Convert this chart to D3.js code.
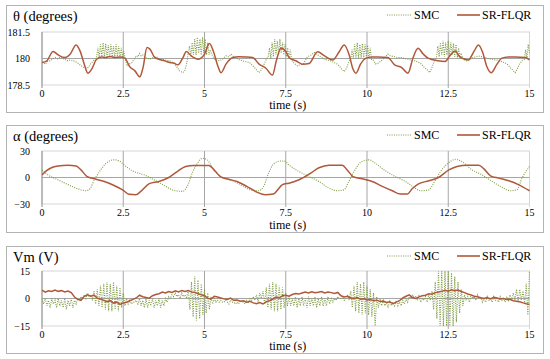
<!DOCTYPE html>
<html>
<head>
<meta charset="utf-8">
<script src="https://d3js.org/d3.v7.min.js"></script>
<style>
body { margin: 0; background: #fff; }
svg text { fill: #000; }
</style>
</head>
<body>
<svg id="chart" width="550" height="359"></svg>
<script>
// time axis, shared by the three plots
var timeTicks = [0, 2.5, 5, 7.5, 10, 12.5, 15];
var timeTickLabels = ["0", "2.5", "5", "7.5", "10", "12.5", "15"];
var seriesNames = ["SMC", "SR-FLQR"];

// theta (degrees) : [t, value]
var thetaTicks = [178.5, 180, 181.5];
var thetaTickLabels = ["178.5", "180", "181.5"];
var thetaFlqr = [[0,179.77],[0.15,179.87],[0.34,180.4],[0.5,180.2],[0.71,180.05],[0.87,180.25],[1.05,180.77],[1.17,180.43],
  [1.3,179.68],[1.41,179.17],[1.53,179.4],[1.68,179.96],[1.84,180.09],[1.95,180.05],[2.09,180.12],[2.25,180.06],[2.4,180.09],[2.55,180.02],
  [2.7,179.53],[2.86,179.3],[3.01,178.96],[3.11,179.5],[3.23,180.62],[3.32,180.53],[3.47,180.06],[3.67,179.92],[3.8,179.85],[3.93,179.77],
  [4.05,179.74],[4.18,179.64],[4.34,180.06],[4.44,180.4],[4.59,180.15],[4.8,179.96],[5.0,180.25],[5.15,180.85],[5.27,180.43],[5.41,179.58],
  [5.51,179.2],[5.66,179.68],[5.87,180.06],[6.05,180.1],[6.28,180.09],[6.48,180.06],[6.68,179.68],[6.89,179.45],[7.09,179.06],[7.21,179.87],
  [7.35,180.58],[7.5,180.4],[7.6,180.06],[7.81,179.87],[8.02,179.68],[8.22,179.72],[8.48,180.38],[8.69,180.15],[8.94,179.92],[9.15,180.4],
  [9.3,180.77],[9.46,180.15],[9.56,179.45],[9.66,179.17],[9.8,179.68],[9.97,180.02],[10.15,180.08],[10.33,180.09],[10.64,180.06],[10.85,179.64],
  [11.06,179.5],[11.26,179.17],[11.42,180.06],[11.57,180.58],[11.73,180.25],[11.88,180.02],[12.19,179.87],[12.4,179.83],[12.55,180.15],
  [12.71,180.43],[12.86,180.09],[13.12,179.92],[13.3,180.43],[13.43,180.77],[13.56,180.34],[13.69,179.53],[13.82,179.2],[14.0,179.68],
  [14.15,180.02],[14.35,180.08],[14.56,180.09],[14.87,180.06],[15,179.92]];
var thetaSmc = [[0,179.8],[0.1,179.68],[0.18,179.85],[0.26,179.87],[0.35,180.0],[0.41,180.06],[0.48,179.98],[0.56,180.08],[0.65,180.0],
  [0.77,179.87],[0.87,179.92],[0.97,179.87],[1.05,179.8],[1.12,179.72],[1.2,179.6],[1.28,179.5],[1.36,179.45],[1.43,179.5],[1.5,179.7],
  [1.58,179.87],[1.64,180.0],
  [1.68,180.1],[1.72,180.6],[1.76,180.05],[1.8,180.8],[1.84,180.1],[1.88,180.9],[1.92,180.05],[1.96,180.85],[2.0,180.1],[2.04,180.75],
  [2.08,180.0],[2.12,180.8],[2.16,180.1],[2.2,180.7],[2.24,180.05],[2.28,180.8],[2.32,180.1],[2.36,180.7],[2.4,180.0],[2.44,180.6],
  [2.48,180.05],[2.52,180.4],[2.56,179.95],
  [2.62,179.58],[2.7,179.7],[2.76,179.75],[2.83,179.95],[2.9,180.15],[2.95,180.1],[3.0,180.28],[3.05,180.15],[3.1,180.2],[3.17,180.05],
  [3.25,180.0],[3.33,179.98],[3.42,180.05],[3.52,180.1],[3.6,180.0],[3.7,179.95],[3.8,179.9],[3.93,179.87],[4.0,179.8],[4.08,179.68],
  [4.16,179.5],[4.23,179.3],[4.34,179.2],[4.4,179.35],[4.45,179.7],
  [4.5,180.3],[4.54,180.7],[4.58,180.1],[4.62,180.9],[4.66,180.2],[4.7,181.1],[4.74,180.2],[4.78,181.2],[4.82,180.3],[4.86,181.1],
  [4.9,180.2],[4.94,181.2],[4.98,180.3],[5.02,181.1],[5.06,180.2],[5.1,180.9],[5.14,180.2],[5.18,180.5],
  [5.22,180.25],[5.3,179.98],[5.38,179.9],[5.46,179.87],[5.55,179.95],[5.66,180.15],[5.74,180.1],[5.82,180.25],[5.9,180.1],[6.0,180.0],
  [6.08,179.92],[6.17,179.87],[6.28,179.82],[6.38,179.78],[6.48,179.6],[6.58,179.4],[6.68,179.2],[6.76,179.4],[6.84,179.7],[6.9,179.95],
  [6.96,180.1],[7.0,180.6],[7.04,180.0],[7.08,180.9],[7.12,180.1],[7.16,181.1],[7.2,180.2],[7.24,181.0],[7.28,180.2],[7.32,181.1],
  [7.36,180.3],[7.4,180.9],[7.44,180.2],[7.48,180.8],[7.52,180.1],[7.56,180.6],[7.6,180.0],[7.64,180.5],[7.68,179.9],
  [7.75,179.75],[7.86,179.58],[7.95,179.65],[8.05,179.72],[8.17,180.1],[8.28,180.2],[8.38,180.34],[8.48,180.2],[8.58,180.1],[8.7,179.95],
  [8.8,179.9],[8.9,179.85],[8.99,179.77],[9.07,179.7],[9.15,179.58],[9.22,179.4],[9.3,179.26],[9.37,179.45],[9.44,179.8],
  [9.5,180.0],[9.54,180.5],[9.58,180.0],[9.62,180.8],[9.66,180.05],[9.7,180.9],[9.74,180.0],[9.78,180.8],[9.82,180.05],[9.86,180.85],
  [9.9,180.0],[9.94,180.8],[9.98,180.1],[10.02,180.75],[10.06,180.0],[10.1,180.6],[10.14,179.95],
  [10.18,179.95],[10.26,179.7],[10.33,179.72],[10.44,179.87],[10.54,180.05],[10.64,180.25],[10.72,180.15],[10.85,180.1],[10.95,180.05],
  [11.06,180.06],[11.16,180.0],[11.26,179.96],[11.37,179.9],[11.47,179.87],[11.57,179.8],[11.68,179.68],[11.76,179.5],[11.83,179.4],
  [11.93,179.2],[12.0,179.5],[12.07,179.85],
  [12.14,180.1],[12.18,180.7],[12.22,180.1],[12.26,180.9],[12.3,180.2],[12.34,181.0],[12.38,180.1],[12.42,180.9],[12.46,180.2],[12.5,181.0],
  [12.54,180.1],[12.58,180.9],[12.62,180.2],[12.66,180.85],[12.7,180.1],[12.74,180.8],[12.78,180.05],[12.82,180.6],[12.86,180.0],[12.9,180.3],
  [12.95,179.96],[13.07,179.87],[13.15,179.92],[13.22,180.02],[13.32,180.08],[13.43,180.15],[13.53,180.1],[13.63,180.06],[13.74,179.98],
  [13.85,179.96],[13.95,179.92],[14.05,179.9],[14.15,179.82],[14.25,179.75],[14.33,179.65],[14.4,179.5],[14.48,179.35],[14.56,179.2],
  [14.62,179.4],[14.7,179.7],[14.78,179.9],
  [14.84,179.95],[14.88,180.5],[14.92,180.0],[14.96,180.8],[15,180.3]];

// alpha (degrees) : [t, value]
var alphaTicks = [-30, 0, 30];
var alphaTickLabels = ["\u221230", "0", "30"];
var alphaFlqr = [[0,3],[0.13,7.5],[0.29,11],[0.49,13],[0.8,14],[1.05,13],[1.2,8.6],[1.39,1],[1.61,-1.5],[1.92,-4.5],[2.22,-9],
  [2.48,-14],[2.68,-19],[2.89,-19.5],[3.04,-15.7],[3.3,-7],[3.6,-4.5],[3.9,0],[4.16,6.7],[4.42,12.4],[4.67,13.5],[5.13,13.5],
  [5.34,6.7],[5.49,1],[5.74,-2],[6.0,-4.5],[6.3,-10],[6.61,-16.5],[6.87,-19.5],[7.12,-18.7],[7.25,-14],[7.4,-8],[7.6,-6.4],
  [7.91,-2.6],[8.22,3.7],[8.52,11],[8.83,14],[9.24,14],[9.39,8.6],[9.57,1],[9.85,-1.5],[10.16,-4.5],[10.47,-10],[10.78,-15],
  [11.03,-18.7],[11.24,-18.7],[11.39,-12.7],[11.6,-7],[11.9,-3.7],[12.2,0],[12.52,8.6],[12.77,12.4],[13.08,14],[13.44,14],
  [13.6,9.7],[13.8,1.9],[14.05,-0.7],[14.36,-3.7],[14.66,-8],[15,-15]];
var alphaSmc = [[0,8.6],[0.18,3],[0.49,-2.6],[0.8,-8],[1.1,-12.7],[1.36,-15],[1.49,-12],[1.61,-2.6],[1.77,6.7],[1.97,16],
  [2.22,20],[2.38,18.7],[2.53,14],[2.79,7.5],[3.14,3],[3.45,-2.6],[3.76,-9],[4.06,-14.6],[4.32,-15.7],[4.47,-10],[4.62,4.9],
  [4.78,16],[4.93,21.7],[5.08,20],[5.29,8.6],[5.49,1],[5.8,-2.6],[6.1,-8],[6.41,-14],[6.66,-15],[6.82,-10],[6.97,4.9],[7.12,15],
  [7.3,18.5],[7.45,18.7],[7.6,14],[7.91,6.7],[8.22,1],[8.52,-4.5],[8.83,-12],[9.09,-15],[9.29,-14],[9.44,-4.5],[9.6,6.7],[9.8,17],
  [10.06,20],[10.26,16],[10.57,7.5],[10.88,1],[11.18,-4.5],[11.44,-11],[11.65,-15],[11.9,-14],[12.05,-6.4],[12.26,6.7],[12.46,15],
  [12.72,20.6],[12.92,18],[13.23,8.6],[13.54,3],[13.85,-4.5],[14.15,-11],[14.41,-15],[14.61,-14],[14.77,-0.7],[15,12.4]];

// Vm (V) : sampled values, SMC every 0.05 s, SR-FLQR every 0.1 s
var vmTicks = [-15, 0, 15];
var vmTickLabels = ["\u221215", "0", "15"];
var vmSmcStep = 0.05;
var vmSmc = [
  0,-3,0,-4,-1,-5,0,-3,-1,-5,
  0,-4,-1,-5,0,-6,-1,-4,0,-5,
  -1,-3,0,-1,1,0,2,0,3,1,
  2,-1,4,-3,5,-4,7,-5,8,-6,
  9,-7,8,-7,9,-6,7,-7,6,-5,
  3,-4,0,-3,-1,-3,-2,-2,-1,-3,
  0,-4,-1,-5,0,-5,-1,-4,0,-5,
  -1,-4,0,-5,-1,-4,0,-2,1,0,
  2,1,3,1,2,0,3,1,2,0,
  5,-6,9,-10,12,-12,10,-11,8,-9,
  5,-8,3,-6,1,-3,0,-2,-1,-2,
  -1,-2,-2,-1,-2,-3,-1,-2,-2,-3,
  -2,-3,-1,-2,-2,-3,-1,-2,0,-1,
  1,-1,2,-2,3,0,4,-3,6,-5,
  8,-6,9,-7,8,-7,7,-6,6,-5,
  3,-4,1,-4,0,-4,1,-5,0,-4,
  1,-4,0,-5,1,-4,0,-4,1,-5,
  0,-4,1,-4,0,-4,1,-3,0,-2,
  0,-1,1,0,0,1,-1,0,2,-1,
  4,-5,7,-7,9,-8,8,-9,9,-8,
  7,-9,5,-10,3,-15,1,-5,0,-4,
  -1,-4,-2,-5,-1,-4,-2,-4,-1,-4,
  -2,-4,-1,-3,0,-2,1,0,2,1,
  1,-1,2,-2,0,-1,1,-2,2,-1,
  4,-6,9,-11,15,-15,15,-15,15,-15,
  15,-15,14,-15,12,-13,9,-8,5,-4,
  2,-1,1,-2,2,0,1,-1,2,0,
  1,-2,0,-2,1,-1,0,-2,1,-1,
  0,-2,1,-1,0,-2,1,-1,2,-1,
  3,-1,5,-2,5,-1,4,-3,8,-9,
  15];
var vmFlqrStep = 0.1;
var vmFlqr = [
  4.5,3.5,4.2,3.8,4.6,3.9,4.3,3.6,4.1,3.2,
  0.8,-0.5,-1.0,1.2,2.0,1.2,1.8,0.2,-0.3,-1.0,
  -1.8,-1.2,-2.5,-2.0,-3.2,-2.4,-2.0,-1.2,-0.5,0.3,
  1.8,1.0,0.6,0.2,1.5,2.2,2.6,3.5,3.0,3.8,
  3.3,4.2,3.6,4.4,3.8,4.3,3.6,3.4,2.6,2.0,
  1.5,0.2,-0.3,1.2,0.8,0.3,-0.2,-0.5,0.2,-1.0,
  -0.8,-1.5,-1.2,-2.0,-1.5,-2.4,-2.8,-2.2,-3.0,-1.8,
  -1.2,-0.3,0.8,0.4,1.5,1.8,1.3,2.2,2.7,2.4,
  3.0,3.5,3.0,3.6,3.1,3.4,3.8,3.0,3.5,3.2,
  2.8,3.3,1.5,0.8,1.2,0.3,0.0,0.5,-0.4,-0.2,
  -0.8,-0.6,-1.2,-0.9,-1.6,-1.4,-2.2,-1.8,-2.8,-2.0,
  -1.2,0.3,1.2,2.0,0.5,0.0,0.9,1.5,1.8,2.6,
  2.3,3.2,3.6,3.9,4.5,4.0,4.8,4.2,4.6,3.8,
  3.2,2.5,2.0,1.2,0.9,0.4,0.0,0.5,-0.2,0.6,
  0.3,-0.3,0.0,-0.6,-0.4,-1.2,-1.5,-1.8,-2.4,-2.9,
  -3.3];

var smcColor = "#7f9c45";
var flqrColor = "#b0583a";
var serif = "Times New Roman, Liberation Serif, Tinos, Nimbus Roman, DejaVu Serif, serif";

function sampled(values, step) {
  return values.map(function(v, i) { return [i * step, v]; });
}

var panels = [
  {title: "\u03b8 (degrees)", ticks: thetaTicks, labels: thetaTickLabels, zero: 180,
   smc: thetaSmc, flqr: thetaFlqr, smooth: true, top: 5, plotTop: 32, plotBottom: 85},
  {title: "\u03b1 (degrees)", ticks: alphaTicks, labels: alphaTickLabels, zero: 0,
   smc: alphaSmc, flqr: alphaFlqr, smooth: true, top: 125, plotTop: 151, plotBottom: 204},
  {title: "Vm (V)", ticks: vmTicks, labels: vmTickLabels, zero: 0,
   smc: sampled(vmSmc, vmSmcStep), flqr: sampled(vmFlqr, vmFlqrStep), smooth: false, top: 246, plotTop: 271, plotBottom: 326}
];

var svg = d3.select("#chart");
var x = d3.scaleLinear().domain([0, 15]).range([42, 529.5]);

panels.forEach(function(p, k) {
  var g = svg.append("g");
  var y = d3.scaleLinear().domain([p.ticks[0], p.ticks[2]]).range([p.plotBottom, p.plotTop]);

  // outer frame
  g.append("rect")
    .attr("x", 6.5).attr("y", p.top + 0.5)
    .attr("width", 537).attr("height", 107)
    .attr("fill", "none").attr("stroke", "#b3b3b3");

  g.append("text").attr("x", 13).attr("y", p.top + 16)
    .style("font-family", serif).style("font-size", "14.5px").text(p.title);

  // plot area border
  g.append("rect")
    .attr("x", x(0)).attr("y", p.plotTop)
    .attr("width", x(15) - x(0)).attr("height", p.plotBottom - p.plotTop)
    .attr("fill", "none").attr("stroke", "#d6d6d6");

  // vertical grid lines
  g.selectAll(".vgrid").data(timeTicks).enter().append("line")
    .attr("x1", function(d) { return x(d); }).attr("x2", function(d) { return x(d); })
    .attr("y1", p.plotTop).attr("y2", p.plotBottom + 3)
    .attr("stroke", function(d) { return (d === 0) ? "#8c8c8c" : (d === 15 ? "#d6d6d6" : "#a6a6a6"); })
    .attr("stroke-width", 1);

  // zero line (horizontal axis)
  g.append("line")
    .attr("x1", x(0)).attr("x2", x(15))
    .attr("y1", y(p.zero)).attr("y2", y(p.zero))
    .attr("stroke", "#a6a6a6");

  // y tick labels
  g.selectAll(".ylab").data(p.ticks).enter().append("text")
    .attr("x", 30).attr("y", function(d) { return y(d); })
    .attr("dy", "0.35em").attr("text-anchor", "end")
    .style("font-family", serif).style("font-size", "10px")
    .text(function(d, i) { return p.labels[i]; });

  // x tick labels
  g.selectAll(".xlab").data(timeTicks).enter().append("text")
    .attr("x", function(d) { return x(d); }).attr("y", p.plotBottom + 11.5)
    .attr("text-anchor", "middle")
    .style("font-family", serif).style("font-size", "10px")
    .text(function(d, i) { return timeTickLabels[i]; });

  g.append("text").attr("x", (x(0) + x(15)) / 2 + 2).attr("y", p.top + 104)
    .attr("text-anchor", "middle")
    .style("font-family", serif).style("font-size", "12px").text("time (s)");

  // clip
  var clipId = "clip" + k;
  svg.append("clipPath").attr("id", clipId).append("rect")
    .attr("x", x(0)).attr("y", p.plotTop - 1)
    .attr("width", x(15) - x(0) + 1).attr("height", p.plotBottom - p.plotTop + 2);

  var smoothLine = d3.line()
    .x(function(d) { return x(d[0]); })
    .y(function(d) { return y(d[1]); })
    .curve(p.smooth ? d3.curveMonotoneX : d3.curveLinear);
  var rawLine = d3.line()
    .x(function(d) { return x(d[0]); })
    .y(function(d) { return y(d[1]); });

  var lines = g.append("g").attr("clip-path", "url(#" + clipId + ")");

  lines.append("path")
    .datum(p.smc)
    .attr("d", k === 1 ? smoothLine : rawLine)
    .attr("fill", "none").attr("stroke", smcColor)
    .attr("stroke-width", 1.1).attr("stroke-dasharray", "1,1.3");

  lines.append("path")
    .datum(p.flqr)
    .attr("d", smoothLine)
    .attr("fill", "none").attr("stroke", flqrColor)
    .attr("stroke-width", 1.5);

  // legend
  var ly = p.top + 10;
  g.append("line").attr("x1", 387).attr("x2", 412).attr("y1", ly).attr("y2", ly)
    .attr("stroke", smcColor).attr("stroke-width", 1.1).attr("stroke-dasharray", "1,1.3");
  g.append("text").attr("x", 414).attr("y", ly + 4)
    .style("font-family", serif).style("font-size", "12px").text(seriesNames[0]);
  g.append("line").attr("x1", 457).attr("x2", 480).attr("y1", ly).attr("y2", ly)
    .attr("stroke", flqrColor).attr("stroke-width", 1.6);
  g.append("text").attr("x", 482).attr("y", ly + 4)
    .style("font-family", serif).style("font-size", "12px").text(seriesNames[1]);
});
</script>
</body>
</html>
